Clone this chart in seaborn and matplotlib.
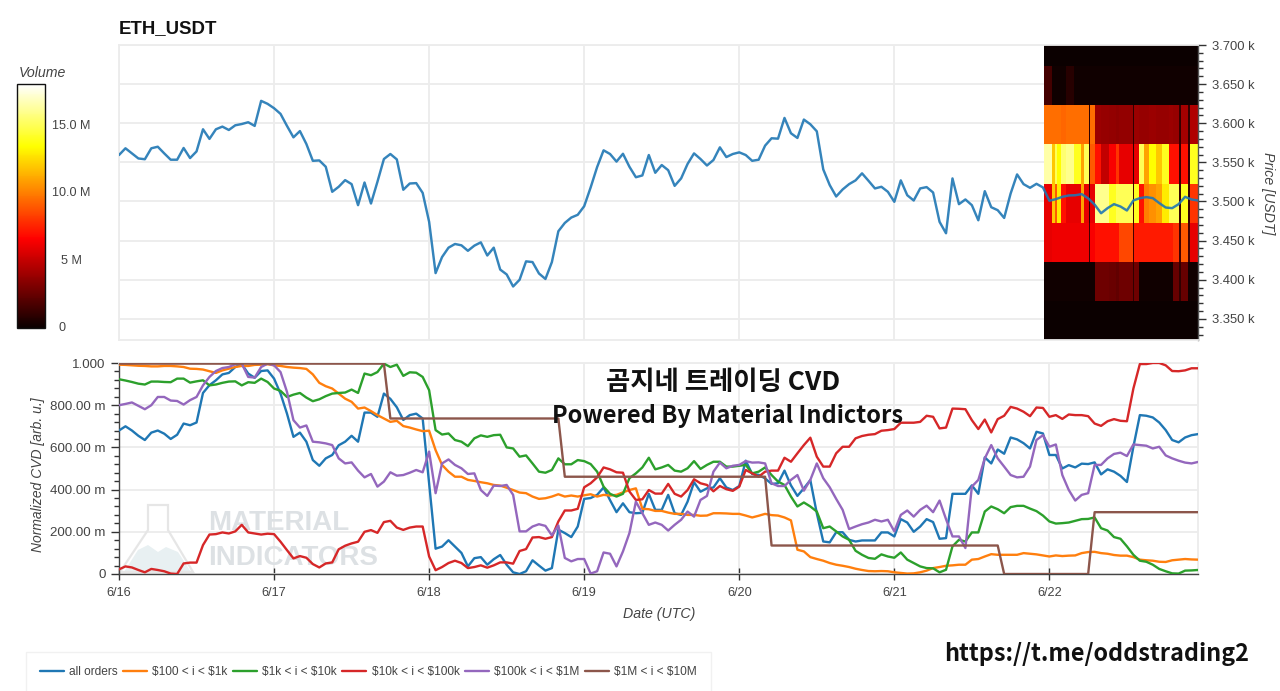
import matplotlib
matplotlib.use("Agg")
import matplotlib.pyplot as plt
from matplotlib.patches import Polygon
from matplotlib.ticker import MultipleLocator
import numpy as np
import pandas as pd
import seaborn as sns

W, H = 1280, 691

bands = ["all orders", "$100 < i < $1k", "$1k < i < $10k", "$10k < i < $100k", "$100k < i < $1M", "$1M < i < $10M"]
colors = ["#1f77b4", "#ff7f0e", "#2ca02c", "#d62728", "#9467bd", "#8c564b"]
day_ticks = [0, 24, 48, 72, 96, 120, 144]
day_labels = ["6/16", "6/17", "6/18", "6/19", "6/20", "6/21", "6/22"]
price_ticks = [3350, 3400, 3450, 3500, 3550, 3600, 3650, 3700]
price_labels = ["3.350 k", "3.400 k", "3.450 k", "3.500 k", "3.550 k", "3.600 k", "3.650 k", "3.700 k"]
cvd_ticks = [0, 0.2, 0.4, 0.6, 0.8, 1.0]
cvd_labels = ["0", "200.00 m", "400.00 m", "600.00 m", "800.00 m", "1.000"]

# hourly close, 6/16 00:00 to 6/22 23:00
price = [
    3559.4, 3568, 3561.5, 3555, 3554, 3568, 3570, 3561.5, 3553.4, 3553.4,
    3568.4, 3555.5, 3564, 3592.3, 3580, 3592.3, 3595.7, 3591.4, 3597.4, 3599,
    3601.3, 3596.6, 3628.6, 3624.8, 3619.2, 3612, 3596.6, 3582, 3590, 3573.5,
    3552, 3552.5, 3544.4, 3512.4, 3518.8, 3527.3, 3522.2, 3495.3, 3524.3, 3497.4,
    3525.2, 3554.3, 3560.7, 3553.8, 3515, 3523, 3523.5, 3511, 3474, 3408.5,
    3429, 3441, 3445.7, 3444, 3437, 3443.6, 3447.8, 3431, 3441, 3413,
    3406.8, 3391.4, 3400, 3423.5, 3422.6, 3408, 3401, 3422.6, 3462, 3472.6,
    3479.5, 3483, 3494, 3518, 3544, 3565.4, 3560.7, 3551, 3561, 3544.4,
    3531, 3533.3, 3559.4, 3536.7, 3546.6, 3540, 3520, 3529.5, 3548, 3561.5,
    3554.3, 3546, 3553, 3569.2, 3556.8, 3560.7, 3562.8, 3559.4, 3552, 3553.4,
    3571.4, 3580.8, 3580.3, 3606.8, 3587.2, 3581.2, 3604.7, 3598.7, 3589.7, 3541,
    3521, 3506.4, 3515.4, 3522.2, 3527, 3536, 3526.5, 3516.7, 3518.8, 3512.4,
    3499.6, 3527, 3508, 3501.3, 3516.7, 3518.4, 3511.5, 3474, 3459.4, 3529.5,
    3496.6, 3502.6, 3495.3, 3476, 3513.2, 3492.7, 3488.9, 3479, 3510.2, 3534.6,
    3522.2, 3517.5, 3522.6, 3518, 3501, 3503, 3506, 3507.7, 3508, 3509.4,
    3504, 3496, 3485, 3491.5, 3496.6, 3493.6, 3488.5, 3501.3, 3504.3, 3505.6,
    3504.3, 3498, 3492.3, 3491.5, 3496.6, 3506, 3502.6, 3501.3,
]

all_orders = [
    .68, .70, .68, .655, .635, .67, .68, .665, .64, .66,
    .713, .705, .718, .858, .895, .918, .946, .953, .981, .995,
    .95, .93, .962, .965, .926, .855, .76, .65, .67, .627,
    .54, .513, .548, .564, .61, .627, .655, .627, .765, .765,
    .745, .855, .83, .79, .73, .753, .76, .737, .43, .12,
    .13, .16, .13, .1, .036, .075, .08, .044, .07, .09,
    .044, .008, 0, .013, .065, .04, .016, .028, .21, .194,
    .175, .225, .356, .36, .375, .41, .35, .293, .335, .293,
    .288, .29, .38, .304, .304, .375, .288, .28, .343, .435,
    .39, .406, .41, .454, .41, .398, .417, .537, .474, .47,
    .453, .427, .43, .49, .42, .37, .406, .445, .288, .154,
    .15, .198, .198, .162, .154, .159, .159, .159, .197, .197,
    .178, .26, .244, .2, .225, .26, .246, .167, .17, .38,
    .38, .38, .42, .38, .553, .524, .59, .57, .647, .638,
    .62, .595, .674, .666, .564, .564, .5, .516, .505, .523,
    .521, .529, .472, .496, .485, .465, .436, .603, .753, .75,
    .742, .718, .682, .635, .624, .647, .658, .663,
]
orders_100_1k = [
    .992, .991, .989, .987, .986, .984, .984, .986, .986, .984,
    .981, .973, .972, .969, .961, .953, .965, .973, .981, .986,
    .986, .991, .992, .994, .989, .986, .981, .978, .976, .972,
    .946, .906, .89, .879, .855, .831, .816, .784, .789, .772,
    .753, .737, .721, .726, .701, .694, .685, .677, .679, .587,
    .517, .485, .461, .461, .446, .441, .435, .43, .422, .419,
    .409, .398, .386, .383, .367, .356, .359, .367, .378, .367,
    .372, .367, .373, .378, .367, .375, .372, .375, .387, .398,
    .406, .309, .307, .299, .299, .291, .285, .285, .28, .28,
    .276, .277, .288, .288, .287, .285, .285, .277, .268, .276,
    .285, .279, .277, .268, .254, .115, .107, .08, .071, .063,
    .052, .044, .039, .033, .025, .019, .014, .013, .014, .013,
    .008, .005, .002, .003, .008, .016, .028, .033, .039, .041,
    .044, .044, .068, .071, .083, .094, .091, .091, .091, .091,
    .099, .096, .093, .088, .083, .088, .085, .087, .088, .099,
    .104, .105, .099, .096, .09, .087, .087, .08, .068, .065,
    .063, .058, .057, .065, .068, .071, .069, .068,
]
orders_1k_10k = [
    .923, .917, .91, .902, .898, .912, .912, .91, .909, .926,
    .926, .907, .913, .918, .894, .898, .906, .912, .913, .894,
    .909, .906, .926, .91, .879, .868, .839, .85, .858, .836,
    .819, .828, .843, .855, .858, .86, .874, .858, .95, .942,
    .957, .997, .981, .992, .939, .956, .954, .934, .871, .682,
    .661, .666, .635, .627, .606, .643, .657, .65, .658, .66,
    .6, .595, .556, .562, .524, .485, .48, .493, .548, .52,
    .52, .54, .535, .521, .485, .414, .38, .367, .38, .454,
    .477, .505, .551, .496, .505, .517, .49, .485, .501, .535,
    .498, .517, .532, .532, .509, .509, .513, .517, .477, .485,
    .505, .469, .438, .422, .367, .32, .339, .32, .296, .217,
    .225, .202, .178, .162, .11, .091, .076, .072, .093, .083,
    .077, .102, .068, .052, .036, .028, .027, .008, .02, .131,
    .162, .154, .197, .197, .296, .32, .307, .288, .317, .323,
    .323, .31, .298, .277, .249, .239, .241, .244, .252, .26,
    .261, .268, .217, .206, .175, .167, .131, .091, .063, .058,
    .044, .024, .013, .003, .002, .016, .017, .019,
]
orders_10k_100k = [
    .022, .036, .031, .019, .008, .024, .019, .013, .002, 0,
    .05, .054, .054, .137, .187, .189, .197, .192, .202, .233,
    .197, .192, .187, .191, .189, .153, .113, .074, .085, .077,
    .047, .031, .05, .055, .117, .134, .145, .153, .2, .208,
    .195, .246, .252, .22, .209, .22, .225, .225, .083, .018,
    .033, .052, .063, .052, .028, .033, .041, .03, .041, .055,
    .055, .049, .109, .118, .173, .175, .167, .175, .249, .301,
    .301, .309, .411, .43, .458, .505, .496, .482, .48, .391,
    .351, .354, .398, .381, .381, .427, .38, .367, .398, .449,
    .43, .422, .392, .417, .402, .394, .414, .493, .477, .461,
    .485, .49, .49, .551, .532, .572, .611, .646, .556, .509,
    .509, .572, .603, .603, .643, .654, .66, .663, .679, .682,
    .687, .717, .717, .717, .721, .75, .745, .69, .694, .784,
    .783, .781, .729, .687, .732, .671, .734, .75, .792, .784,
    .769, .748, .789, .787, .745, .753, .735, .756, .753, .753,
    .748, .713, .702, .724, .734, .726, .724, .879, .995, .995,
    1, 1, .989, .962, .961, .965, .975, .975,
]
orders_100k_1m = [
    .8, .806, .813, .797, .781, .8, .839, .839, .822, .82,
    .803, .824, .839, .894, .934, .962, .976, .981, .994, .997,
    .934, .931, .981, .997, .989, .957, .863, .729, .694, .704,
    .627, .624, .619, .611, .548, .524, .529, .49, .458, .474,
    .414, .438, .482, .466, .469, .48, .493, .482, .58, .383,
    .524, .543, .517, .501, .474, .477, .398, .37, .419, .417,
    .422, .375, .202, .202, .225, .236, .228, .183, .23, .076,
    .06, .071, .071, .002, .013, .102, .096, .036, .107, .194,
    .343, .288, .233, .244, .233, .206, .233, .257, .296, .272,
    .351, .37, .485, .528, .501, .513, .517, .535, .528, .529,
    .524, .43, .417, .417, .446, .469, .395, .446, .524, .454,
    .411, .356, .304, .213, .225, .236, .244, .257, .249, .257,
    .202, .28, .301, .272, .304, .324, .293, .348, .26, .178,
    .178, .123, .414, .446, .548, .611, .548, .509, .469, .458,
    .461, .509, .635, .658, .603, .614, .469, .398, .348, .375,
    .383, .517, .517, .548, .569, .575, .559, .614, .611, .608,
    .595, .603, .562, .548, .537, .528, .524, .531,
]
orders_1m_10m = [.997] * 42 + [.737] * 27 + [.461] * 32 + [.135] * 36 + [0] * 14 + [.293] * 17

# volume profile of the last day, in millions, one row per 50 USDT bin
heat_price_edges = [3323, 3373, 3423, 3473, 3523, 3573, 3623, 3673, 3700]
heat_hour_edges = [
    143.19, 144.48, 144.89, 145.25, 145.77, 146.54, 147.83, 148.86, 149.37, 150.15,
    150.35, 151.02, 151.95, 153.24, 154.27, 154.79, 156.95, 157.16, 157.88, 158.65,
    159.43, 160.46, 161.49, 162.52, 163.14, 164.06, 164.37, 165.51, 165.71, 167,
]
vol_3348 = [.05] * 29
vol_3398 = [.2, .2, .2, .2, .2, .2, .2, .2, .2, .2, .2, 2.7, 2.7, 2.6, 2.4, 2.7, 1, 2.7,
            .2, .2, .2, .2, .2, .2, 2.5, 1, 2.5, .2, .2]
vol_3448 = [6, 6.2, 6.2, 6.2, 6.2, 6.2, 6.2, 6.2, 6.2, 1.5, 6.5, 7, 7, 7, 7, 8.5, 1.5, 7.3,
            7.3, 7.3, 7.3, 7.3, 7.3, 7.3, 8, 1.5, 9, 1.5, 6]
vol_3498 = [6, 12, 9, 13, 7, 6, 6, 11, 6, 1, 6, 16, 16, 14, 15, 15, 1.5, 14,
            7, 10, 10.5, 11, 13, 15, 15, 1.2, 14, 1.2, 8]
vol_3548 = [16.5, 12, 15, 13.5, 15.5, 16, 14, 11, 15, 1, 9, 7, 5, 6.5, 8, 6, 1, 6,
            15, 11, 13.5, 12, 14, 7, 7, 1.2, 7, 1.2, 14]
vol_3598 = [9.6, 9.6, 9.6, 9.6, 9.4, 9.6, 9.6, 9.6, 9.6, 1, 9.6, 3.9, 3.8, 3.7, 3.6, 3.7, 1, 3.9,
            3.8, 3.8, 3.9, 3.8, 3.8, 3.9, 3.8, 1.2, 4.2, 1.2, 4.5]
vol_3648 = [1.6, .2, .2, .2, .2, .8, .2, .2, .2, .2, .2, .2, .2, .2, .2, .2, .2, .2,
            .2, .2, .2, .2, .2, .2, .2, .2, .2, .2, .2]
vol_3686 = [.05] * 29

vol_ticks = [0, 5, 10, 15]
vol_labels = ["0", "5 M", "10.0 M", "15.0 M"]
vol_max = 18.1

sns.set_theme(style="white")
plt.rcParams["font.family"] = ["Liberation Sans", "DejaVu Sans"]
plt.rcParams["axes.unicode_minus"] = False
plt.rcParams["text.parse_math"] = False
grey = "#444444"
grid = "#ececec"


def px_axes(fig, left, top, right, bottom):
    return fig.add_axes([left / W, 1 - bottom / H, (right - left) / W, (bottom - top) / H])


def fig_text(fig, x, y, s, **kw):
    return fig.text(x / W, 1 - y / H, s, **kw)


fig = plt.figure(figsize=(W / 100, H / 100), dpi=100, facecolor="white")
ax1 = px_axes(fig, 119, 45, 1198, 340)
ax2 = px_axes(fig, 119, 363, 1198, 574)
cax = px_axes(fig, 17, 84, 45, 328)

hours = np.arange(len(price))

# price panel
volume = np.array([vol_3348, vol_3398, vol_3448, vol_3498, vol_3548, vol_3598, vol_3648, vol_3686])
mesh = ax1.pcolormesh(heat_hour_edges, heat_price_edges, volume, cmap="hot", vmin=0, vmax=vol_max, zorder=2)
sns.lineplot(x=hours, y=price, ax=ax1, color=colors[0], linewidth=1.75, alpha=0.9, errorbar=None, zorder=3)
ax1.set_xlim(0, 167)
ax1.set_ylim(3323, 3700)
ax1.set_xticks(day_ticks)
ax1.set_yticks(price_ticks)
ax1.set_yticklabels(price_labels)
ax1.yaxis.set_minor_locator(MultipleLocator(10))
ax1.yaxis.tick_right()
ax1.yaxis.set_label_position("right")
ax1.grid(True, color=grid, linewidth=1.3)
ax1.set_axisbelow(True)
ax1.tick_params(axis="x", length=0, labelbottom=False)
ax1.tick_params(axis="y", which="major", direction="out", length=6, width=1, color="#333333",
                labelcolor=grey, labelsize=9.4, pad=4, right=True)
ax1.tick_params(axis="y", which="minor", direction="out", length=3.5, width=1, color="#333333", right=True)
ax1.set_xlabel("")
for side in ["top", "left", "bottom"]:
    ax1.spines[side].set_color(grid)
    ax1.spines[side].set_linewidth(1.3)
ax1.spines["right"].set_color("#555555")
ax1.spines["right"].set_linewidth(1)
fig_text(fig, 119, 29, "ETH_USDT", fontsize=13.4, fontweight="bold", color="#111111", ha="left", va="center")
fig_text(fig, 1268, 193, "Price [USDT]", fontsize=10.2, style="italic", color=grey, rotation=-90,
         ha="center", va="center")

# cvd panel
cvd = pd.DataFrame({
    bands[0]: all_orders,
    bands[1]: orders_100_1k,
    bands[2]: orders_1k_10k,
    bands[3]: orders_10k_100k,
    bands[4]: orders_100k_1m,
    bands[5]: orders_1m_10m,
})
cvd["hour"] = hours
long = cvd.melt(id_vars="hour", var_name="band", value_name="value")
sns.lineplot(data=long, x="hour", y="value", hue="band", hue_order=bands, palette=colors, ax=ax2,
             linewidth=1.7, errorbar=None, legend=True, zorder=3)
ax2.set_xlim(0, 167)
ax2.set_ylim(0, 1.0)
ax2.set_xticks(day_ticks)
ax2.set_xticklabels(day_labels)
ax2.set_yticks(cvd_ticks)
ax2.set_yticklabels(cvd_labels)
ax2.yaxis.set_minor_locator(MultipleLocator(0.04))
ax2.grid(True, color=grid, linewidth=1.3)
ax2.set_axisbelow(True)
ax2.tick_params(axis="x", which="major", direction="inout", length=8, width=1, color="#333333",
                labelcolor=grey, labelsize=9.2, pad=5.5, bottom=True)
ax2.tick_params(axis="y", which="major", direction="out", length=6, width=1, color="#333333",
                labelcolor=grey, labelsize=9.6, pad=3.5, left=True)
ax2.tick_params(axis="y", which="minor", direction="out", length=3.5, width=1, color="#333333", left=True)
ax2.set_xlabel("")
ax2.set_ylabel("")
for side in ["top", "right"]:
    ax2.spines[side].set_color(grid)
    ax2.spines[side].set_linewidth(1.3)
for side in ["left", "bottom"]:
    ax2.spines[side].set_color("#444444")
    ax2.spines[side].set_linewidth(1)
fig_text(fig, 38, 475, "Normalized CVD [arb. u.]", fontsize=10, style="italic", color=grey, rotation=90,
         ha="center", va="center")
fig_text(fig, 659, 614, "Date (UTC)", fontsize=10.2, style="italic", color=grey, ha="center", va="center")

# watermark sits under the lines
to_ax = lambda x, y: ((x - 119) / (1198 - 119), (574 - y) / (574 - 363))
flask = [(148, 505), (168, 505), (168, 530), (193, 572), (120, 572), (148, 530)]
water = [(124, 572), (138, 550), (148, 545), (158, 552), (166, 547), (178, 552), (191, 572)]
ax2.add_patch(Polygon([to_ax(*p) for p in water], closed=True, transform=ax2.transAxes, facecolor="#e8f0f2",
                      edgecolor="none", zorder=1))
ax2.add_patch(Polygon([to_ax(*p) for p in flask], closed=True, transform=ax2.transAxes, facecolor="none",
                      edgecolor="#e6e6e6", linewidth=1.6, zorder=1))
ax2.text(*to_ax(208, 523), "MATERIAL", transform=ax2.transAxes, fontsize=20, fontweight="bold", color="#dde1e4",
         ha="left", va="center", zorder=1)
ax2.text(*to_ax(208, 558), "INDICATORS", transform=ax2.transAxes, fontsize=20, fontweight="bold", color="#dde1e4",
         ha="left", va="center", zorder=1)

# legend under the chart, cut by the bottom edge
handles, labels = ax2.get_legend_handles_labels()
ax2.get_legend().remove()
leg = fig.legend(handles, labels, loc="center left", bbox_to_anchor=(26 / W, 1 - 672 / H), ncol=6, fontsize=8.6,
                 handlelength=2.0, handletextpad=0.45, columnspacing=0.45, borderpad=1.15, borderaxespad=0,
                 frameon=True, fancybox=False, edgecolor="#eeeeee", facecolor="white", labelcolor="#444444")
leg.get_frame().set_linewidth(1)

# colour bar
cb = fig.colorbar(mesh, cax=cax)
cb.outline.set_edgecolor("#111111")
cb.outline.set_linewidth(1)
cb.set_ticks(vol_ticks[1:])
cb.set_ticklabels([])
cb.ax.tick_params(direction="in", length=4, width=1, color="#222222", right=True)
for v, lab in zip(vol_ticks, vol_labels):
    y = 328 - v / vol_max * 244
    fig_text(fig, 62 if v == 0 else 71, y, lab, fontsize=9.1, color=grey, ha="center", va="center")
fig_text(fig, 42, 73, "Volume", fontsize=10.2, style="italic", color=grey, ha="center", va="center")

# overlay captions
kr = ["Noto Sans CJK KR", "DejaVu Sans"]
fig_text(fig, 723, 383, "곰지네 트레이딩 CVD", family=kr, fontsize=19, fontweight="bold", color="#111111",
         ha="center", va="center", zorder=10)
fig_text(fig, 728, 416, "Powered By Material Indictors", family=kr, fontsize=17, fontweight="bold", color="#111111",
         ha="center", va="center", zorder=10)
fig_text(fig, 1097, 654, "https://t.me/oddstrading2", family=kr, fontsize=16.8, fontweight="bold", color="#111111",
         ha="center", va="center", zorder=10)

fig.savefig("out.png", dpi=100, facecolor="white")
